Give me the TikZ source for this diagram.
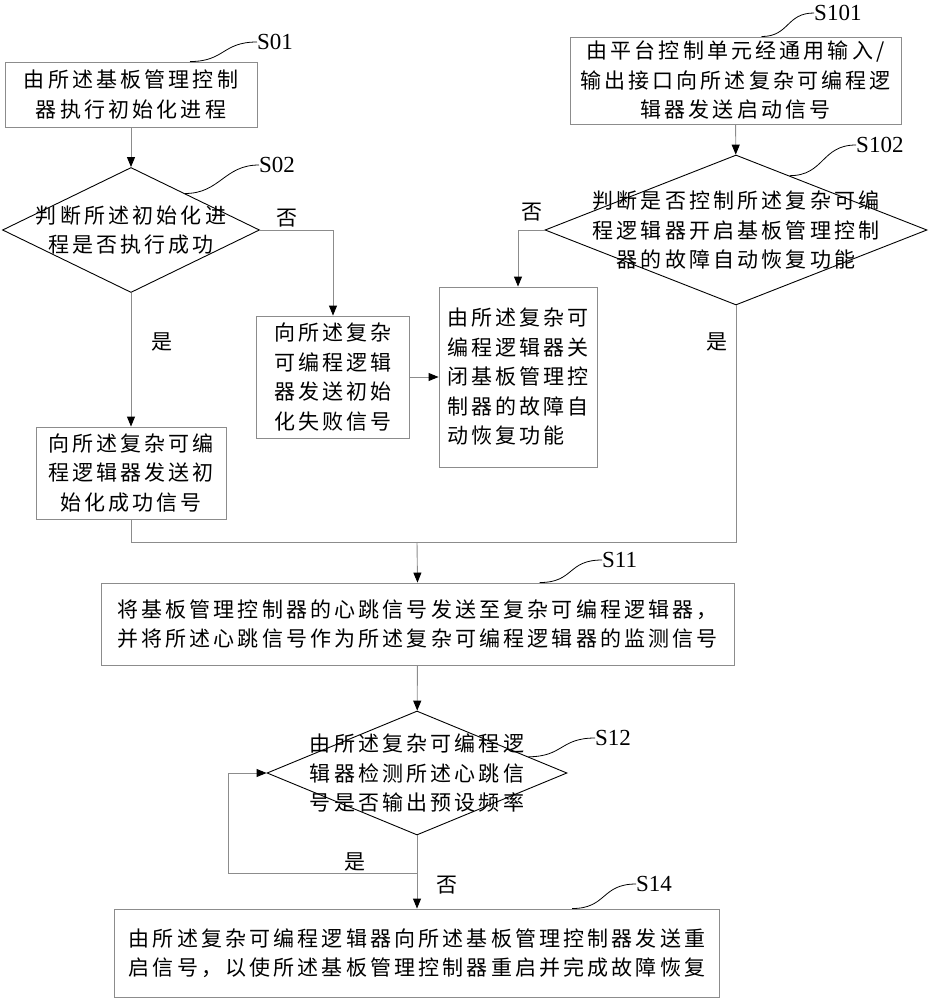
\documentclass[tikz,border=0pt]{standalone}
\usepackage{fontspec}
\setmainfont{Liberation Serif}
\newfontfamily\cjk[LetterSpace=15]{Noto Sans CJK SC}
\usepackage{xcolor}
\usetikzlibrary{shapes.geometric,arrows.meta,calc}
\definecolor{boxgray}{RGB}{140,140,140}

\begin{document}
\begin{tikzpicture}[x=1pt,y=-1pt,
  txt/.style={font=\cjk\fontsize{21}{29.5}\selectfont},
  box/.style={txt,draw=boxgray,line width=0.9pt,rectangle,inner sep=0pt,align=center},
  decision/.style={txt,draw=black,line width=0.9pt,diamond,inner sep=-80pt,align=center},
  line/.style={draw=boxgray,line width=0.9pt},
  arr/.style={line,-{Triangle[length=10pt,width=8pt,color=black]}},
  tag/.style={font=\fontsize{23}{23}\selectfont,inner sep=0pt,anchor=west},
  tagline/.style={draw=black,line width=0.8pt}]
\useasboundingbox (0,0) rectangle (929,1000);

% start of the BMC
\node[box,minimum width=252,minimum height=65] (s01) at (131,94.5) {由所述基板管理控制\\器执行初始化进程};
\node[decision,minimum width=257,minimum height=125] (d02) at (131,230) {判断所述初始化进\\程是否执行成功};
\node[box,minimum width=190,minimum height=92] (ok) at (131,473) {向所述复杂可编\\程逻辑器发送初\\始化成功信号};
\node[box,minimum width=153,minimum height=122] (fail) at (333,377) {向所述复杂\\可编程逻辑\\器发送初始\\化失败信号};

% platform control
\node[box,minimum width=331,minimum height=87] (s101) at (735.5,80.5) {由平台控制单元经通用输入/\\输出接口向所述复杂可编程逻\\辑器发送启动信号};
\node[decision,minimum width=382,minimum height=150] (d102) at (736,230) {判断是否控制所述复杂可编\\程逻辑器开启基板管理控制\\器的故障自动恢复功能};
\node[box,align=left,minimum width=158,minimum height=180] (close) at (518,377) {由所述复杂可\\编程逻辑器关\\闭基板管理控\\制器的故障自\\动恢复功能};

% heartbeat monitoring
\node[box,align=left,minimum width=633,minimum height=82] (s11) at (417.5,624) {将基板管理控制器的心跳信号发送至复杂可编程逻辑器，\\并将所述心跳信号作为所述复杂可编程逻辑器的监测信号};
\node[decision,minimum width=300,minimum height=124] (d12) at (417,773) {由所述复杂可编程逻\\辑器检测所述心跳信\\号是否输出预设频率};
\node[box,align=left,minimum width=605,minimum height=88] (s14) at (417,953) {由所述复杂可编程逻辑器向所述基板管理控制器发送重\\启信号，以使所述基板管理控制器重启并完成故障恢复};

\coordinate (m) at (417,542);
\coordinate (back) at (228,873);

% connectors
\draw[arr] (s01) -- (d02);
\draw[arr] (d02.east) -| (fail.north);
\draw[arr] (d02.south) -- (ok.north);
\draw[arr] (fail.east) -- (close.west);
\draw[arr] (s101) -- (d102);
\draw[arr] (d102.west) -| (close.north);
\draw[line] (ok.south) |- (d102.south |- m) -- (d102.south);
\draw[arr] (m) -- (s11.north);
\draw[arr] (s11) -- (d12);
\draw[arr] (d12.south |- back) -- (back) |- (d12.west);
\draw[arr] (d12.south) -- (s14.north);

% yes / no
\node[txt] (n02) at (287,218) {否};
\node[txt] (y02) at (162,342) {是};
\node[txt] (n102) at (532,212) {否};
\node[txt] (y102) at (717,342) {是};
\node[txt] (y12) at (355,862) {是};
\node[txt] (n12) at (447,885) {否};

% step tags
\node[tag] (t01) at (257,42) {S01};
\node[tag] (t02) at (259,165) {S02};
\node[tag] (t101) at (814,13) {S101};
\node[tag] (t102) at (856,145) {S102};
\node[tag] (t11) at (602,560) {S11};
\node[tag] (t12) at (595,738) {S12};
\node[tag] (t14) at (636,884) {S14};
\draw[tagline] ([xshift=59pt]s01.north) .. controls +(35,0) and +(-35,0) .. (t01.west);
\draw[tagline] ($(d02.north)!0.42!(d02.east)$) .. controls +(35,0) and +(-35,0) .. (t02.west);
\draw[tagline] ([xshift=26pt]s101.north) .. controls +(28,0) and +(-28,0) .. (t101.west);
\draw[tagline] ($(d102.north)!0.28!(d102.east)$) .. controls +(35,0) and +(-35,0) .. (t102.west);
\draw[tagline] ([xshift=122pt]s11.north) .. controls +(35,0) and +(-35,0) .. (t11.west);
\draw[tagline] ($(d12.north)!0.74!(d12.east)$) .. controls +(35,0) and +(-35,0) .. (t12.west);
\draw[tagline] ([xshift=155pt]s14.north) .. controls +(35,0) and +(-35,0) .. (t14.west);
\end{tikzpicture}
\end{document}
